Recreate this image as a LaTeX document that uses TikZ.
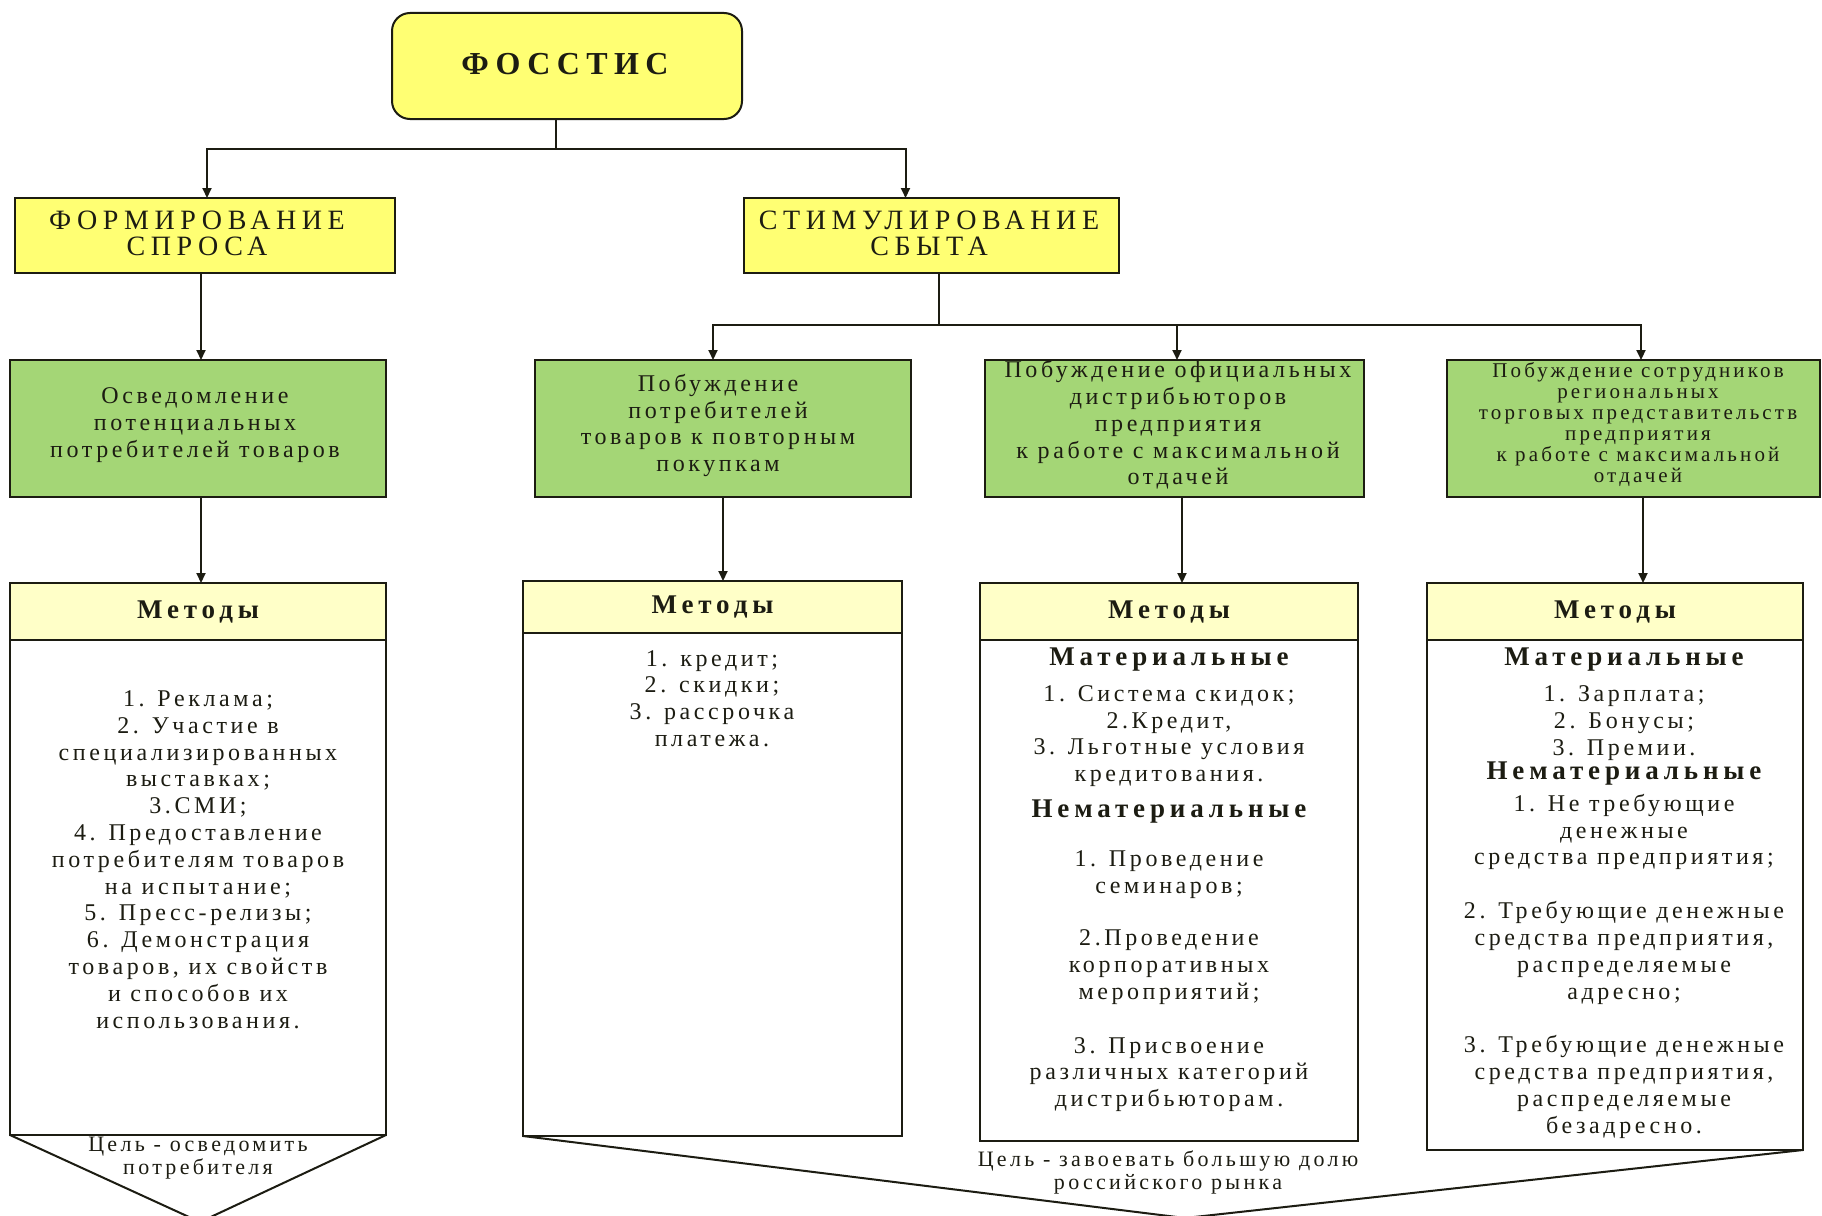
\documentclass[tikz,border=0pt]{standalone}
\usepackage{fontspec}
\setmainfont{Liberation Serif}
\newfontfamily\spacedfont[LetterSpace=15]{Liberation Serif}
\newfontfamily\boldspaced[LetterSpace=18]{Liberation Serif}
\newfontfamily\capsfont[LetterSpace=20]{Liberation Serif}
\usetikzlibrary{arrows.meta,calc}
\definecolor{topyellow}{RGB}{255,255,115}
\definecolor{boxgreen}{RGB}{164,214,118}
\definecolor{headcream}{RGB}{255,255,200}
\definecolor{ink}{RGB}{28,28,18}
\begin{document}
\begin{tikzpicture}[x=1pt,y=-1pt,
  every node/.style={inner sep=0pt, outer sep=0pt},
  boxline/.style={draw=ink, line width=2pt},
  topbox/.style={boxline, fill=topyellow, rounded corners=18pt},
  ybox/.style={boxline, fill=topyellow},
  gbox/.style={boxline, fill=boxgreen},
  mbox/.style={boxline, fill=white},
  hbox/.style={boxline, fill=headcream},
  conn/.style={draw=ink, line width=2pt},
  arr/.style={conn, -{Triangle[length=10pt,width=9pt]}},
  bodytxt/.style={font=\spacedfont\fontsize{24}{26.8}\selectfont, align=center, text=ink},
  smalltxt/.style={font=\spacedfont\fontsize{21}{21}\selectfont, align=center, text=ink},
  goaltxt/.style={font=\spacedfont\fontsize{22}{22.5}\selectfont, align=center, text=ink},
  boldtxt/.style={font=\boldspaced\bfseries\fontsize{27}{28}\selectfont, align=center, text=ink},
  capstxt/.style={font=\capsfont\fontsize{28}{26}\selectfont, align=center, text=ink},
  titletxt/.style={font=\capsfont\bfseries\fontsize{32}{32}\selectfont, text=ink}
]
\useasboundingbox (0,0) rectangle (1822,1215);
\clip (0,0) rectangle (1822,1215);
\fill[white] (0,0) rectangle (1822,1215);

% top
\node[topbox, minimum width=350, minimum height=106] (top) at (567,66) {};
\node[titletxt] (toptxt) at (565,64) {ФОССТИС};

% level 1
\node[ybox, minimum width=380, minimum height=75] (y1) at (205,235.5) {};
\node[capstxt] (y1txt) at (197,233) {ФОРМИРОВАНИЕ\\СПРОСА};
\node[ybox, minimum width=375, minimum height=75] (y2) at (931.5,235.5) {};
\node[capstxt] (y2txt) at (929,233) {СТИМУЛИРОВАНИЕ\\СБЫТА};

% level 2
\node[gbox, minimum width=376, minimum height=137] (g1) at (198,428.5) {};
\node[bodytxt] (g1txt) at (195,425) {Осведомление\\потенциальных\\потребителей товаров};
\node[gbox, minimum width=376, minimum height=137] (g2) at (723,428.5) {};
\node[bodytxt] (g2txt) at (718,425.5) {Побуждение\\потребителей\\товаров к повторным\\покупкам};
\node[gbox, minimum width=379, minimum height=137] (g3) at (1174.5,428.5) {};
\node[bodytxt] (g3txt) at (1178,425) {Побуждение официальных\\дистрибьюторов\\предприятия\\к работе с максимальной\\отдачей};
\node[gbox, minimum width=373, minimum height=137] (g4) at (1633.5,428.5) {};
\node[smalltxt] (g4txt) at (1638,425) {Побуждение сотрудников\\региональных\\торговых представительств\\предприятия\\к работе с максимальной\\отдачей};

% methods boxes
\node[mbox, minimum width=376, minimum height=552] (m1) at (198,859) {};
\node[hbox, minimum width=376, minimum height=57, anchor=north] (h1) at (m1.north) {};
\node[boldtxt] (h1txt) at (h1.center) {Методы};
\node[mbox, minimum width=379, minimum height=555] (m2) at (712.5,858.5) {};
\node[hbox, minimum width=379, minimum height=52, anchor=north] (h2) at (m2.north) {};
\node[boldtxt] (h2txt) at (h2.center) {Методы};
\node[mbox, minimum width=378, minimum height=558] (m3) at (1169,862) {};
\node[hbox, minimum width=378, minimum height=57, anchor=north] (h3) at (m3.north) {};
\node[boldtxt] (h3txt) at (h3.center) {Методы};
\node[mbox, minimum width=376, minimum height=567] (m4) at (1615,866.5) {};
\node[hbox, minimum width=376, minimum height=57, anchor=north] (h4) at (m4.north) {};
\node[boldtxt] (h4txt) at (h4.center) {Методы};

% methods content
\node[bodytxt] (m1txt) at (198,859.5) {1. Реклама;\\2. Участие в\\специализированных\\выставках;\\3.СМИ;\\4. Предоставление\\потребителям товаров\\на испытание;\\5. Пресс-релизы;\\6. Демонстрация\\товаров, их свойств\\и способов их\\использования.};
\node[bodytxt] (m2txt) at (712,698.5) {1. кредит;\\2. скидки;\\3. рассрочка\\платежа.};

\node[boldtxt] (m3a) at (1169,660) {Материальные};
\node[bodytxt] (m3b) at (1169,736) {1. Система скидок;\\2.Кредит,\\3. Льготные условия\\кредитования.};
\node[boldtxt] (m3c) at (1169,812) {Нематериальные};
\node[bodytxt] (m3d) at (1169,874.5) {1. Проведение\\семинаров;};
\node[bodytxt] (m3e) at (1169,967) {2.Проведение\\корпоративных\\мероприятий;};
\node[bodytxt] (m3f) at (1169,1074.5) {3. Присвоение\\различных категорий\\дистрибьюторам.};

\node[boldtxt] (m4a) at (1624,660) {Материальные};
\node[bodytxt] (m4b) at (1624,723) {1. Зарплата;\\2. Бонусы;\\3. Премии.};
\node[boldtxt] (m4c) at (1624,774) {Нематериальные};
\node[bodytxt] (m4d) at (1624,832) {1. Не требующие\\денежные\\средства предприятия;};
\node[bodytxt] (m4e) at (1624,953) {2. Требующие денежные\\средства предприятия,\\распределяемые\\адресно;};
\node[bodytxt] (m4f) at (1624,1087) {3. Требующие денежные\\средства предприятия,\\распределяемые\\безадресно.};

% connectors
\coordinate (b1) at (556,149);
\draw[conn] (top.south -| b1) -- (b1);
\draw[arr] (b1) -| ([xshift=2pt]y1.north);
\draw[arr] (b1) -| ([xshift=-26pt]y2.north);
\draw[arr] ([xshift=-4pt]y1.south) -- ([xshift=-4pt]y1.south |- g1.north);

\coordinate (b2) at (939,325);
\draw[conn] (y2.south -| b2) -- (b2);
\draw[arr] (b2) -| ([xshift=-10pt]g2.north);
\draw[arr] (b2) -| ([xshift=2.5pt]g3.north);
\draw[arr] (b2) -| ([xshift=7.5pt]g4.north);

\draw[arr] ([xshift=3pt]g1.south) -- ([xshift=3pt]g1.south |- h1.north);
\draw[arr] (g2.south) -- (g2.south |- h2.north);
\draw[arr] ([xshift=7.5pt]g3.south) -- ([xshift=7.5pt]g3.south |- h3.north);
\draw[arr] ([xshift=9.5pt]g4.south) -- ([xshift=9.5pt]g4.south |- h4.north);

% goal arrows
\coordinate (tip1) at (200,1222);
\draw[conn, line join=miter] (m1.south west) -- (tip1) -- (m1.south east);
\node[goaltxt] (goal1) at (198,1158) {Цель - осведомить\\потребителя};
\coordinate (tip2) at (1185,1218);
\draw[conn] (m2.south west) -- (tip2) -- (m4.south east);
\node[goaltxt] (goal2) at (1168,1172.5) {Цель - завоевать большую долю\\российского рынка};
\end{tikzpicture}
\end{document}
